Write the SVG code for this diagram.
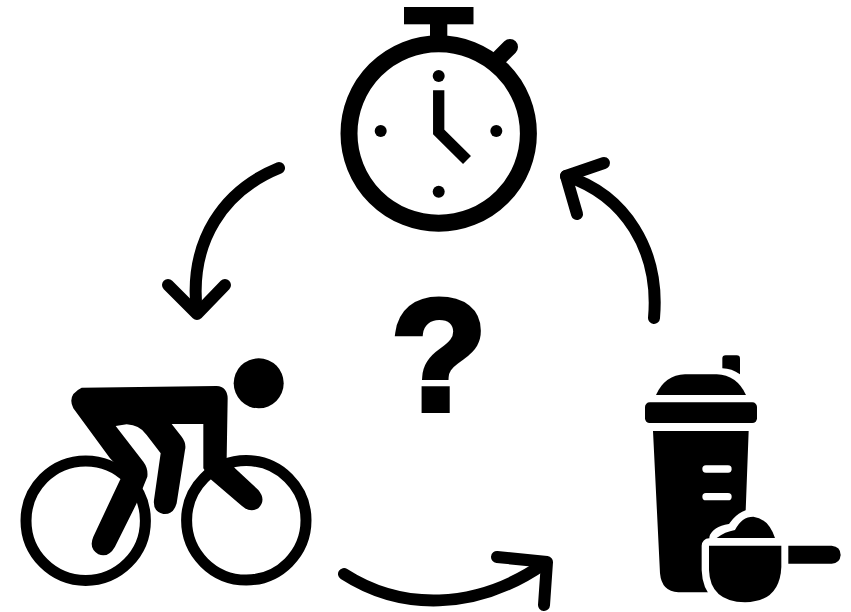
<svg xmlns="http://www.w3.org/2000/svg" width="851" height="612" viewBox="0 0 851 612">
<style>
.arc{fill:none;stroke:#000;stroke-width:12;stroke-linecap:round;stroke-linejoin:round}
.ring{fill:none;stroke:#000}
.k{fill:#000}
.w{fill:#fff}
.halo{fill:#fff;stroke:#fff;stroke-width:44;stroke-linejoin:round}
</style>
<rect width="851" height="612" fill="#fff"/>
<g id="connectors">
<path class="arc" d="M279,168C225,190 188,240 197,313"/>
<path class="arc" d="M168,285L197,314L225,285"/>
<path class="arc" d="M344,574C400,610 475,612 545,563"/>
<path class="arc" d="M497,557L547,562L544,605"/>
<path class="arc" d="M654,318C660,250 625,195 566,176"/>
<path class="arc" d="M604,163L566,176L577,214"/>
</g>
<g id="stopwatch">
<rect class="k" x="404" y="7" width="69.500" height="17.300"/>
<rect class="k" x="430" y="20" width="17.300" height="24"/>
<circle class="ring" cx="438.700" cy="133.500" r="89.700" stroke-width="17"/>
<path d="M495,62L510,47" fill="none" stroke="#000" stroke-width="16" stroke-linecap="round"/>
<circle class="k" cx="438.700" cy="76" r="6"/>
<circle class="k" cx="380.700" cy="131" r="6"/>
<circle class="k" cx="496.300" cy="131" r="6"/>
<circle class="k" cx="438.700" cy="191.700" r="6"/>
<path d="M438.700,90.300V132L467,160" fill="none" stroke="#000" stroke-width="11.300"/>
</g>
<g id="cyclist">
<circle class="ring" cx="85.700" cy="520.700" r="59.700" stroke-width="11"/>
<circle class="ring" cx="246.300" cy="520.300" r="59.700" stroke-width="11"/>
<circle class="k" cx="258.700" cy="383.300" r="25"/>
<path class="k" transform="translate(0,340) scale(.33333)" d="M245,143L650,138Q682,140 683,175L680,355L705,385L775,450Q800,480 775,505Q750,520 725,497L632,418L610,385V252H515L545,290Q560,310 555,330L530,490Q520,525 490,522Q458,515 462,480L482,340L440,285Q420,255 380,253L347,258L430,365Q445,385 442,410L432,435L410,490L345,620Q325,655 295,643Q265,625 280,590L360,420L372,400L330,355L220,205Q200,165 245,143Z"/>
</g>
<g id="shaker" transform="translate(620,340) scale(.33333)">
<path class="k" d="M108,165Q135,105 195,103H290Q350,105 378,165Z"/>
<path class="k" d="M307,85V55Q307,46 317,46H350Q360,46 360,56V103Q335,85 307,85Z"/>
<rect class="k" x="75" y="187" width="336" height="62" rx="14"/>
<path class="k" d="M99,273H386L370,700V757H175Q125,755 120,700Z"/>
<rect class="w" x="247" y="376" width="88" height="22" rx="11"/>
<rect class="w" x="247" y="459" width="88" height="22" rx="11"/>
<path class="halo" d="M267,617H484V680Q480,785 375,787Q270,785 267,690Z"/>
<path class="halo" d="M290,594Q300,575 340,573Q365,530 400,530Q445,535 465,594Z"/>
<path class="w" d="M370,640H500V800H370Z"/>
<path class="k" d="M267,617H484V680Q480,785 375,787Q270,785 267,690Z"/>
<path class="k" d="M290,594Q315,575 345,570Q365,530 400,530Q445,535 465,594Z"/>
<path class="k" d="M505,617H635Q662,620 662,645Q660,670 635,671H505Z"/>
</g>
<text id="question" x="439" y="410" text-anchor="middle" font-family="'Liberation Sans',Arial,sans-serif" font-weight="700" font-size="157" fill="#000" stroke="#000" stroke-width="6">?</text>
</svg>
